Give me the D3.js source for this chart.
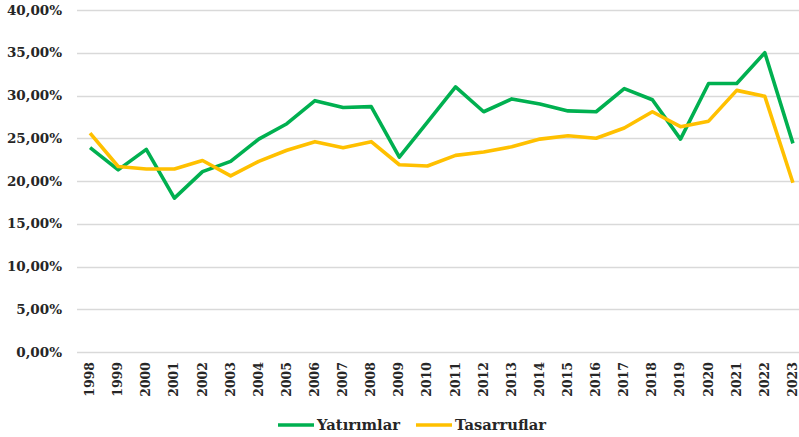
<!DOCTYPE html>
<html>
<head>
<meta charset="utf-8">
<script src="https://d3js.org/d3.v7.min.js"></script>
<style>
  body { margin: 0; background: #fff; }
  #chart text { font-family: "DejaVu Serif", serif; font-weight: bold; fill: #262626; }
</style>
</head>
<body>
<div id="chart"></div>
<script>
"use strict"

var yillar = ["1998","1999","2000","2001","2002","2003","2004","2005","2006","2007","2008","2009","2010",
              "2011","2012","2013","2014","2015","2016","2017","2018","2019","2020","2021","2022","2023"];

var yatirimlar = [23.9, 21.3, 23.7, 18.0, 21.1, 22.3, 24.9, 26.7, 29.4, 28.6, 28.7, 22.8, 26.9,
                  31.0, 28.1, 29.6, 29.0, 28.2, 28.1, 30.8, 29.5, 24.9, 31.4, 31.4, 35.0, 24.4];

var tasarruflar = [25.6, 21.7, 21.4, 21.4, 22.4, 20.6, 22.3, 23.6, 24.6, 23.9, 24.6, 21.9, 21.75,
                   23.0, 23.4, 24.0, 24.9, 25.3, 25.0, 26.2, 28.1, 26.35, 27.0, 30.6, 29.9, 19.8];

var yTikler = [0, 5, 10, 15, 20, 25, 30, 35, 40];

var seriler = [
  {ad: "Yatırımlar", degerler: yatirimlar, renk: "#00b050"},
  {ad: "Tasarruflar", degerler: tasarruflar, renk: "#ffc000"}
];

var larguraSVG = 799, alturaSVG = 437;

var svg = d3.select('#chart')
  .append('svg')
    .attr('width', larguraSVG)
    .attr('height', alturaSVG);

// eixo x: categorias, pontos no meio de cada faixa (como no Excel)
var x = d3.scaleBand()
          .domain(yillar)
          .range([76, 807]);

var y = d3.scaleLinear()
          .domain([0, 40])
          .range([352, 10]);

var formato = function(v) { return d3.format(".2f")(v).replace(".", ",") + "%"; };

// linhas de grade
svg.append('g')
  .selectAll('line')
  .data(yTikler)
  .enter()
  .append('line')
    .attr('x1', 77)
    .attr('x2', larguraSVG)
    .attr('y1', d => Math.round(y(d)) + 0.5)
    .attr('y2', d => Math.round(y(d)) + 0.5)
    .attr('stroke', '#d9d9d9')
    .attr('stroke-width', 1.3);

// rótulos do eixo y
svg.append('g')
  .selectAll('text')
  .data(yTikler)
  .enter()
  .append('text')
    .attr('x', 62)
    .attr('y', d => y(d))
    .attr('dy', '0.35em')
    .attr('text-anchor', 'end')
    .style('font-size', '13.5px')
    .text(formato);

// rótulos do eixo x (girados)
svg.append('g')
  .selectAll('text')
  .data(yillar)
  .enter()
  .append('text')
    .attr('transform', d => 'translate(' + (x(d) + x.bandwidth() / 2 + 4) + ',362) rotate(-90)')
    .attr('text-anchor', 'end')
    .style('font-size', '12.5px')
    .text(d => d);

var linha = d3.line()
  .x((d, i) => x(yillar[i]) + x.bandwidth() / 2)
  .y(d => y(d));

svg.append('g')
  .selectAll('path')
  .data(seriler)
  .enter()
  .append('path')
    .attr('d', d => linha(d.degerler))
    .attr('fill', 'none')
    .attr('stroke', d => d.renk)
    .attr('stroke-width', 3.6)
    .attr('stroke-linejoin', 'round');

// legenda
var legenda = svg.append('g')
  .selectAll('g')
  .data(seriler)
  .enter()
  .append('g')
    .attr('transform', (d, i) => 'translate(' + (278 + i * 138) + ',425)');

legenda.append('line')
  .attr('x1', 0)
  .attr('x2', 36)
  .attr('stroke', d => d.renk)
  .attr('stroke-width', 3.6);

legenda.append('text')
  .attr('x', 39)
  .attr('dy', '0.35em')
  .style('font-size', '14.7px')
  .text(d => d.ad);
</script>
</body>
</html>
